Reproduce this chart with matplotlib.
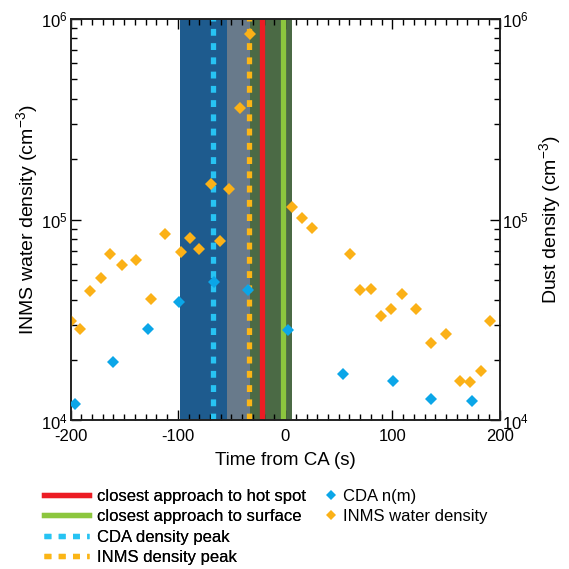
import matplotlib
matplotlib.use('Agg')
import matplotlib.pyplot as plt
import numpy as np

plt.rcParams['font.family'] = ['Liberation Sans', 'DejaVu Sans']
plt.rcParams['mathtext.fontset'] = 'custom'
plt.rcParams['mathtext.rm'] = 'Liberation Sans'
plt.rcParams['mathtext.it'] = 'Liberation Sans'
plt.rcParams['mathtext.bf'] = 'Liberation Sans'
plt.rcParams['axes.unicode_minus'] = False

# INMS water density (orange diamonds)
inms_t = [-200, -191, -182, -172, -163, -152, -139, -125, -112, -97, -89, -80, -69,
          -61, -52, -42, -33, 6.5, 16, 25, 61, 70, 80, 89, 99, 109, 122, 136, 150,
          163, 172, 183, 191]
inms_n = [31400, 28600, 44200, 51500, 67200, 59600, 62900, 40100, 84600, 69200, 81300,
          71600, 149600, 78300, 142400, 360600, 841400, 116100, 101600, 90900, 67600,
          44700, 45200, 33300, 35900, 42500, 36100, 24400, 27100, 15700, 15500, 17600, 31400]

# CDA dust density (blue diamonds)
cda_t = [-196, -160, -128, -99, -66, -35, 3, 54, 101, 136, 174]
cda_n = [12100, 19500, 28600, 38900, 49000, 44700, 28200, 17100, 15700, 12800, 12500]

# shaded intervals and vertical markers
spans = [(-98, -54, '#1e5b8e'), (-54, -33, '#687a8b'), (-33, 6.5, '#4b6a45')]
t_hot = -21.5
t_surf = -1.5
t_cda_peak = -67
t_inms_peak = -34

fig = plt.figure(figsize=(5.69, 5.69), dpi=100)
ax = fig.add_axes([0.124, 0.261, 0.754, 0.706])
ax2 = ax.twinx()

for a, b, c in spans:
    ax.axvspan(a, b, color=c, lw=0, zorder=1)

l_hot, = ax.plot([t_hot, t_hot], [1e4, 1e6], color='#ec1c24', lw=3.8, zorder=2)
l_surf, = ax.plot([t_surf, t_surf], [1e4, 1e6], color='#8cc63e', lw=3.8, zorder=2)
l_cda, = ax.plot([t_cda_peak, t_cda_peak], [1e4, 1e6], color='#27c3f3', lw=3.8,
                 dashes=(1.3, 1.4), zorder=2)
l_inms, = ax.plot([t_inms_peak, t_inms_peak], [1e4, 1e6], color='#fbb516', lw=3.8,
                  dashes=(1.3, 1.4), zorder=2)

m_inms, = ax.plot(inms_t, inms_n, 'D', color='#fbb117', ms=6.3, mew=0, zorder=3)
m_cda, = ax2.plot(cda_t, cda_n, 'D', color='#0ba6e8', ms=6.3, mew=0, zorder=3)

for a in (ax, ax2):
    a.set_yscale('log')
    a.set_ylim(1e4, 1e6)
    a.set_xlim(-200, 200)
    for s in a.spines.values():
        s.set_linewidth(1.2)
        s.set_color('#222222')
ax.set_xticks([-200, -100, 0, 100, 200])
ax.set_xticks(np.arange(-200, 201, 10), minor=True)
ax.tick_params(axis='x', which='both', direction='in', top=True, labelsize=12,
               width=1, pad=6)
ax.tick_params(axis='y', which='both', direction='in', labelsize=12, width=1, pad=2)
ax2.tick_params(axis='y', which='both', direction='in', labelsize=12, width=1, pad=2)
for a in (ax, ax2):
    a.tick_params(which='major', length=7)
    a.tick_params(which='minor', length=4)

ax.set_xlabel('Time from CA (s)', fontsize=13.5, labelpad=6)
ax.set_ylabel('INMS water density (cm$^{-3}$)', fontsize=14, labelpad=1)
ax2.set_ylabel('Dust density (cm$^{-3}$)', fontsize=14, labelpad=6)

leg1 = fig.legend([l_hot, l_surf, l_cda, l_inms],
                  ['closest approach to hot spot', 'closest approach to surface',
                   'CDA density peak', 'INMS density peak'],
                  loc='upper left', bbox_to_anchor=(0.077, 0.141), frameon=False,
                  fontsize=12, handlelength=2.7, handletextpad=0.48,
                  labelspacing=0.33, borderpad=0, borderaxespad=0)
fig.add_artist(leg1)
fig.legend([m_cda, m_inms], ['CDA n(m)', 'INMS water density'],
           loc='upper left', bbox_to_anchor=(0.570, 0.141), frameon=False,
           fontsize=12, handlelength=0.8, handletextpad=0.32,
           labelspacing=0.33, borderpad=0, borderaxespad=0, markerscale=0.8)

fig.savefig('out.png', dpi=100)
